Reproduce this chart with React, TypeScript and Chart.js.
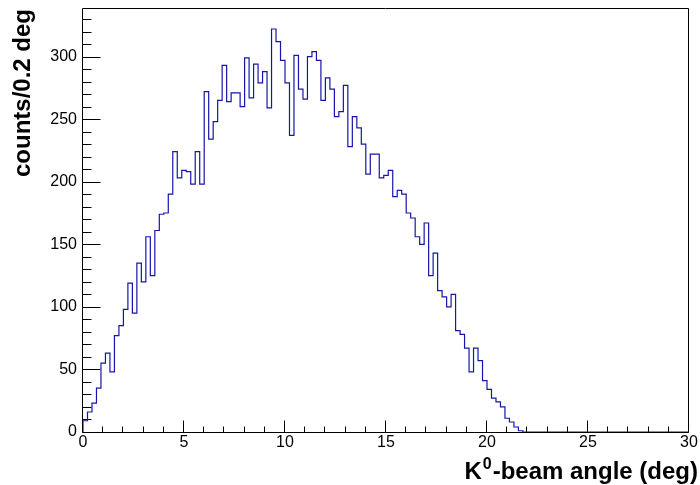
import React, { useEffect, useRef } from "react";
import { Chart, registerables } from "chart.js";

Chart.register(...registerables);

// Histogram: K0-beam angle, 135 bins from 0 to 30 deg
const X_MIN = 0;
const X_MAX = 30;
const N_BINS = 135;
const Y_MAX = 338.8;

const counts: number[] = [
  9, 16, 23, 35, 55, 63, 48, 77, 85, 98,
  119, 95, 135, 120, 156, 125, 161, 174, 175, 190,
  224, 203, 209, 208, 198, 224, 198, 272, 234, 248,
  265, 293, 264, 271, 271, 260, 299, 267, 294, 279,
  288, 259, 322, 312, 297, 279, 237, 301, 274, 266,
  300, 304, 297, 265, 283, 274, 252, 256, 277, 228,
  252, 243, 230, 206, 222, 222, 203, 205, 209, 188,
  193, 190, 175, 171, 156, 150, 167, 125, 143, 113,
  108, 100, 110, 81, 78, 67, 48, 67, 57, 41,
  34, 27, 24, 20, 11, 8, 4, 1,
];

const xTickLabels: number[] = [0, 5, 10, 15, 20, 25, 30];
const yTickLabels: number[] = [0, 50, 100, 150, 200, 250, 300];

const Y_TITLE = "counts/0.2 deg";
const X_TITLE_MAIN = "K";
const X_TITLE_SUP = "0";
const X_TITLE_REST = "-beam angle (deg)";

const FONT = '"Liberation Sans", Arial, Helvetica, sans-serif';
const LINE_COLOR = "#1616a8";

const rootStyle = {
  id: "rootStyle",
  beforeDatasetsDraw(chart: any) {
    const { ctx, chartArea, scales } = chart;
    const { left, right, top, bottom } = chartArea;
    const xs = scales.x;
    const ys = scales.y;
    ctx.save();
    ctx.strokeStyle = "#000";
    ctx.lineWidth = 1;
    const L = Math.round(left) - 0.5;
    const R = Math.round(right) - 0.5;
    const T = Math.round(top) + 0.5;
    const B = Math.round(bottom) + 0.5;
    ctx.beginPath();
    ctx.rect(L, T, R - L, B - T);
    ctx.stroke();
    // y ticks (inside)
    ctx.beginPath();
    for (let v = 0; v <= Y_MAX; v += 10) {
      const py = Math.round(ys.getPixelForValue(v)) + 0.5;
      const len = v % 50 === 0 ? 18 : 9;
      ctx.moveTo(L, py);
      ctx.lineTo(L + len, py);
    }
    // x ticks (inside)
    for (let d = X_MIN; d <= X_MAX; d += 1) {
      const px = Math.round(xs.getPixelForValue(d)) - 0.5;
      const len = d % 5 === 0 ? 12 : 6;
      ctx.moveTo(px, B);
      ctx.lineTo(px, B - len);
    }
    ctx.stroke();
    ctx.restore();
  },
  afterDraw(chart: any) {
    const { ctx } = chart;
    ctx.save();
    ctx.fillStyle = "#000";
    // y title
    ctx.font = `bold 24px ${FONT}`;
    ctx.translate(30, 9);
    ctx.rotate(-Math.PI / 2);
    ctx.textAlign = "right";
    ctx.textBaseline = "alphabetic";
    ctx.fillText(Y_TITLE, 0, 0);
    ctx.restore();

    ctx.save();
    ctx.fillStyle = "#000";
    ctx.textAlign = "left";
    ctx.textBaseline = "alphabetic";
    const mainFont = `bold 24px ${FONT}`;
    const supFont = `bold 16px ${FONT}`;
    ctx.font = mainFont;
    const w1 = ctx.measureText(X_TITLE_MAIN).width;
    const w3 = ctx.measureText(X_TITLE_REST).width;
    ctx.font = supFont;
    const w2 = ctx.measureText(X_TITLE_SUP).width;
    const total = w1 + 1 + w2 + 1 + w3;
    const baseY = 479;
    let x0 = 698 - total;
    ctx.font = mainFont;
    ctx.fillText(X_TITLE_MAIN, x0, baseY);
    x0 += w1 + 1;
    ctx.font = supFont;
    ctx.fillText(X_TITLE_SUP, x0, baseY - 10);
    x0 += w2 + 1;
    ctx.font = mainFont;
    ctx.fillText(X_TITLE_REST, x0, baseY);
    ctx.restore();
  },
};

export default function App() {
  const canvasRef = useRef<HTMLCanvasElement | null>(null);

  useEffect(() => {
    const canvas = canvasRef.current;
    if (!canvas) return;
    const binW = (X_MAX - X_MIN) / N_BINS;
    const points: { x: number; y: number }[] = [{ x: X_MIN, y: 0 }];
    for (let i = 0; i < N_BINS; i++) {
      points.push({ x: X_MIN + i * binW, y: counts[i] ?? 0 });
    }
    points.push({ x: X_MAX, y: 0 });

    const chart = new Chart(canvas, {
      type: "line",
      data: {
        datasets: [
          {
            data: points,
            stepped: "before",
            borderColor: LINE_COLOR,
            borderWidth: 1.2,
            pointRadius: 0,
            fill: false,
            tension: 0,
          } as any,
        ],
      },
      options: {
        responsive: false,
        animation: false,
        devicePixelRatio: 1,
        layout: { padding: { left: 0, right: 11, top: 8, bottom: 0 } },
        plugins: {
          legend: { display: false },
          tooltip: { enabled: false },
          title: { display: false },
        },
        scales: {
          x: {
            type: "linear",
            min: X_MIN,
            max: X_MAX,
            grid: { display: false, drawTicks: false },
            border: { display: false },
            afterBuildTicks: (s: any) => {
              s.ticks = xTickLabels.map((v) => ({ value: v }));
            },
            afterFit: (s: any) => {
              s.height = 53;
              s.paddingLeft = 0;
              s.paddingRight = 0;
              s.paddingTop = 0;
              s.paddingBottom = 0;
            },
            ticks: {
              color: "#000",
              font: { family: FONT, size: 16, lineHeight: 1 },
              padding: 3,
              maxRotation: 0,
              autoSkip: false,
            },
          },
          y: {
            type: "linear",
            min: 0,
            max: Y_MAX,
            grid: { display: false, drawTicks: false },
            border: { display: false },
            afterBuildTicks: (s: any) => {
              s.ticks = yTickLabels.map((v) => ({ value: v }));
            },
            afterFit: (s: any) => {
              s.width = 83;
              s.paddingLeft = 0;
              s.paddingRight = 0;
              s.paddingTop = 0;
              s.paddingBottom = 0;
            },
            ticks: {
              color: "#000",
              font: { family: FONT, size: 16, lineHeight: 1 },
              padding: 6,
              autoSkip: false,
            },
          },
        },
      },
      plugins: [rootStyle],
    });
    return () => chart.destroy();
  }, []);

  return (
    <div style={{ position: "fixed", left: 0, top: 0, width: 700, height: 485, background: "#fff" }}>
      <canvas ref={canvasRef} width={700} height={485} style={{ display: "block" }} />
    </div>
  );
}
